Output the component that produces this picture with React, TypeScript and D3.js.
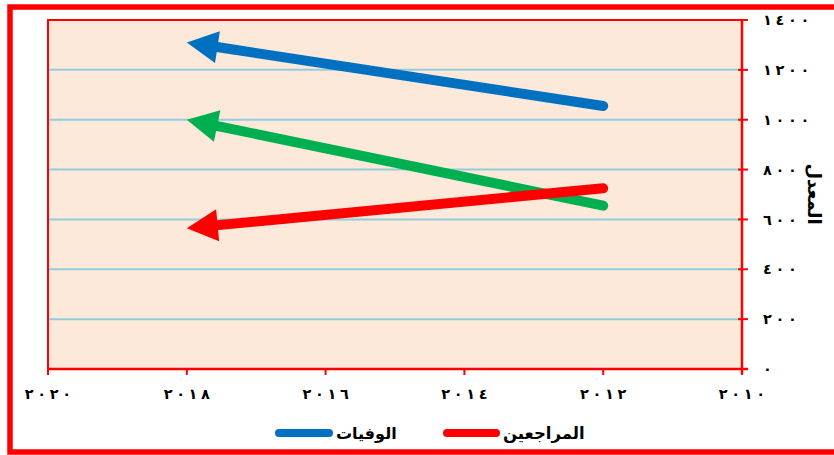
import React from "react";
import * as d3 from "d3";

const years = [2012, 2018];
const deaths = [1055, 1310];
const visitors = [725, 565];
const greenSeries = [655, 1000];
const xTicks = [2020, 2018, 2016, 2014, 2012, 2010];
const yTicks = [0, 200, 400, 600, 800, 1000, 1200, 1400];
const legendLabels = ["الوفيات", "المراجعين"];
const yTitle = "المعدل";

const W = 834;
const H = 455;
const plot = { left: 48, right: 742, top: 20, bottom: 369 };

const arabicDigits = "٠١٢٣٤٥٦٧٨٩";
const toArabic = (n: number) =>
  "\u202D" +
  String(n)
    .split("")
    .map((d) => arabicDigits[Number(d)])
    .join("\u2005") +
  "\u202C";

const FONT = "'DejaVu Sans', sans-serif";

export default function App() {
  const x = d3.scaleLinear().domain([2020, 2010]).range([plot.left, plot.right]);
  const y = d3.scaleLinear().domain([0, 1400]).range([plot.bottom, plot.top]);

  const series = [
    { values: deaths, color: "#0070C0" },
    { values: greenSeries, color: "#00B050" },
    { values: visitors, color: "#FF0000" },
  ];

  const headLen = 31;
  const headHalf = 16;
  const lineW = 10;

  const arrows = series.map((s, i) => {
    const x0 = x(years[0]);
    const y0 = y(s.values[0]);
    const x1 = x(years[1]);
    const y1 = y(s.values[1]);
    const dx = x1 - x0;
    const dy = y1 - y0;
    const len = Math.hypot(dx, dy);
    const ux = dx / len;
    const uy = dy / len;
    const bx = x1 - ux * headLen;
    const by = y1 - uy * headLen;
    const px = -uy;
    const py = ux;
    const line = d3.line()([
      [x0, y0],
      [bx + ux * 2, by + uy * 2],
    ]);
    const head = d3.line()([
      [x1, y1],
      [bx + px * headHalf, by + py * headHalf],
      [bx - px * headHalf, by - py * headHalf],
    ]) + "Z";
    return (
      <g key={i}>
        <path d={line || ""} stroke={s.color} strokeWidth={lineW} strokeLinecap="round" fill="none" />
        <path d={head} fill={s.color} />
      </g>
    );
  });

  const tickTextProps = {
    fontFamily: FONT,
    fontWeight: "bold" as const,
    fontSize: 14.5,
    direction: "ltr" as const,
    unicodeBidi: "bidi-override" as const,
    fill: "#000",
  };

  return (
    <svg
      width={W}
      height={H}
      style={{ position: "absolute", left: 0, top: 0, background: "#fff" }}
    >
      {/* outer frame */}
      <rect x={10} y={7} width={W + 20} height={445} fill="none" stroke="#FF0000" strokeWidth={5.5} />
      {/* plot area */}
      <rect
        x={plot.left}
        y={plot.top}
        width={plot.right - plot.left}
        height={plot.bottom - plot.top}
        fill="#FDE9D9"
        stroke="#FF0000"
        strokeWidth={2}
      />
      {/* gridlines */}
      {yTicks
        .filter((t) => t > 0 && t < 1400)
        .map((t) => (
          <line
            key={t}
            x1={plot.left + 1}
            x2={plot.right}
            y1={y(t)}
            y2={y(t)}
            stroke="#93CDDD"
            strokeWidth={2}
          />
        ))}
      {/* y axis (right) */}
      <line x1={plot.right} x2={plot.right} y1={plot.top} y2={plot.bottom + 5} stroke="#FF0000" strokeWidth={2.5} />
      {yTicks.map((t) => (
        <g key={t}>
          <line x1={plot.right - 4} x2={plot.right + 6} y1={y(t)} y2={y(t)} stroke="#FF0000" strokeWidth={2} />
          <text x={763} y={y(t)} dy="0.35em" {...tickTextProps}>
            {toArabic(t)}
          </text>
        </g>
      ))}
      {/* x axis */}
      <line x1={plot.left} x2={plot.right + 6} y1={plot.bottom} y2={plot.bottom} stroke="#FF0000" strokeWidth={2.5} />
      {xTicks.map((t) => (
        <g key={t}>
          <line x1={x(t)} x2={x(t)} y1={plot.bottom} y2={plot.bottom + 6} stroke="#FF0000" strokeWidth={2} />
          <text x={x(t)} y={394} dy="0.35em" textAnchor="middle" {...tickTextProps}>
            {toArabic(t)}
          </text>
        </g>
      ))}
      {/* arrows */}
      {arrows}
      {/* y axis title */}
      <text
        transform={`translate(814,194) rotate(90)`}
        textAnchor="middle"
        dy="0.35em"
        fontFamily={FONT}
        fontWeight="bold"
        fontSize={18}
        fill="#000"
      >
        {yTitle}
      </text>
      {/* legend */}
      <line x1={279} x2={329} y1={433} y2={433} stroke="#0070C0" strokeWidth={8} strokeLinecap="round" />
      <text x={336} y={433} dy="0.35em" fontFamily={FONT} fontWeight="bold" fontSize={16} textAnchor="start">
        {legendLabels[0]}
      </text>
      <line x1={447} x2={496} y1={433} y2={433} stroke="#FF0000" strokeWidth={8} strokeLinecap="round" />
      <text x={503} y={433} dy="0.35em" fontFamily={FONT} fontWeight="bold" fontSize={16.5} textAnchor="start">
        {legendLabels[1]}
      </text>
    </svg>
  );
}
